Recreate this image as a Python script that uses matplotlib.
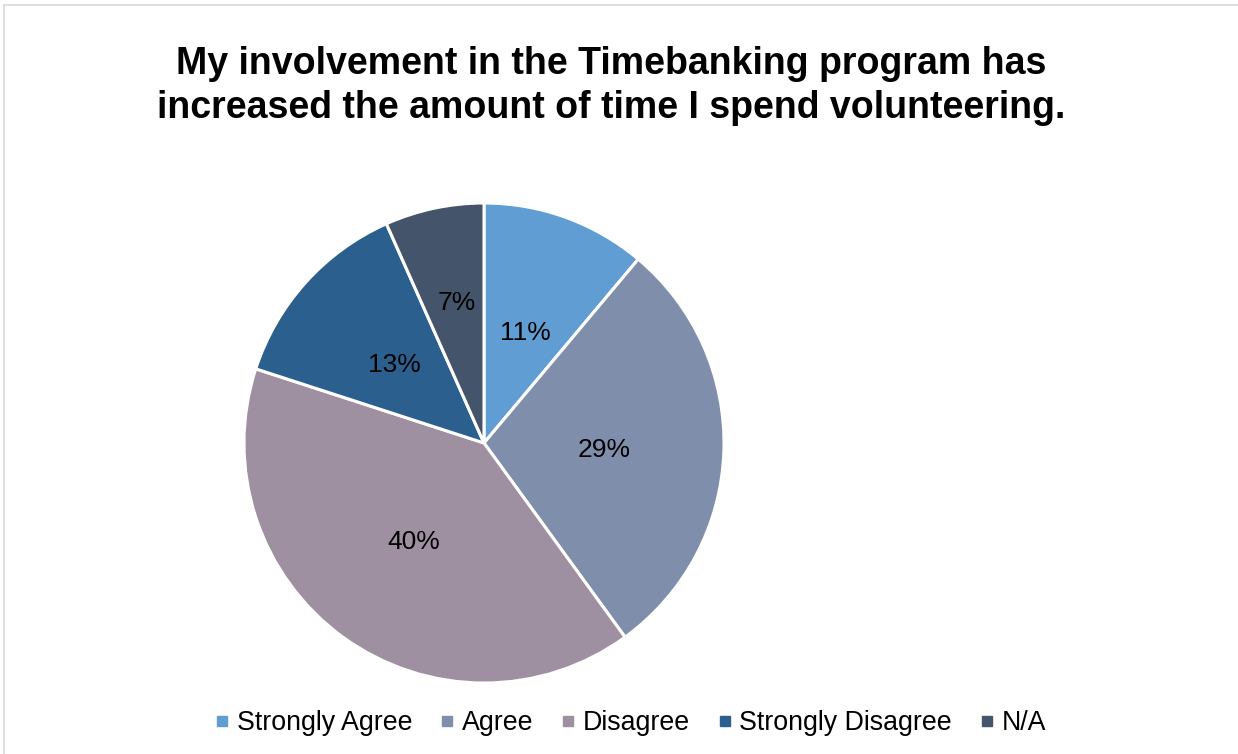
import matplotlib
matplotlib.use("Agg")
import matplotlib.pyplot as plt
from matplotlib.lines import Line2D

plt.rcParams["font.family"] = ["Liberation Sans", "DejaVu Sans"]

title = "My involvement in the Timebanking program has\nincreased the amount of time I spend volunteering."
categories = ["Strongly Agree", "Agree", "Disagree", "Strongly Disagree", "N/A"]
counts = [5, 13, 18, 6, 3]
colors = ["#5f9dd2", "#7f8fab", "#9e90a0", "#2b5f8e", "#44546a"]

W, H = 1238, 754
fig = plt.figure(figsize=(W / 100, H / 100), dpi=100)

# light chart frame (top and left edges visible)
fig.add_artist(Line2D([4 / W, 1], [1 - 5 / H, 1 - 5 / H], color="#d9d9d9", lw=1.2))
fig.add_artist(Line2D([4 / W, 4 / W], [0, 1 - 5 / H], color="#d9d9d9", lw=1.2))

cx, cy, r = 484, 443, 240
ax = fig.add_axes([(cx - r) / W, (H - cy - r) / H, 2 * r / W, 2 * r / H])
wedges, _, autotexts = ax.pie(
    counts, colors=colors, startangle=90, counterclock=False, radius=1,
    autopct="%1.0f%%", pctdistance=0.5,
    wedgeprops=dict(edgecolor="white", linewidth=2.2),
    textprops=dict(fontsize=19, color="black"),
)
# Excel-style best fit: labels sit a touch lower, the small N/A label pushed out
for t in autotexts:
    x, y = t.get_position()
    t.set_position((x, y - 0.01))
autotexts[-1].set_position((-0.115, 0.585))
ax.set_xlim(-1, 1)
ax.set_ylim(-1, 1)
ax.set_aspect("equal")
ax.axis("off")

fig.text(611 / W, 1 - 86 / H, title, ha="center", va="center",
         fontsize=27, fontweight="bold", linespacing=1.26)

handles = [Line2D([], [], marker="s", linestyle="none", markersize=7,
                  markerfacecolor=c, markeredgecolor=c) for c in colors]
fig.legend(handles, categories, loc="center", bbox_to_anchor=(630 / W, 1 - 723 / H),
           ncol=5, frameon=False, fontsize=19.3, handlelength=0.6,
           handletextpad=0.25, columnspacing=1.0)

fig.savefig("out.png", dpi=100)
